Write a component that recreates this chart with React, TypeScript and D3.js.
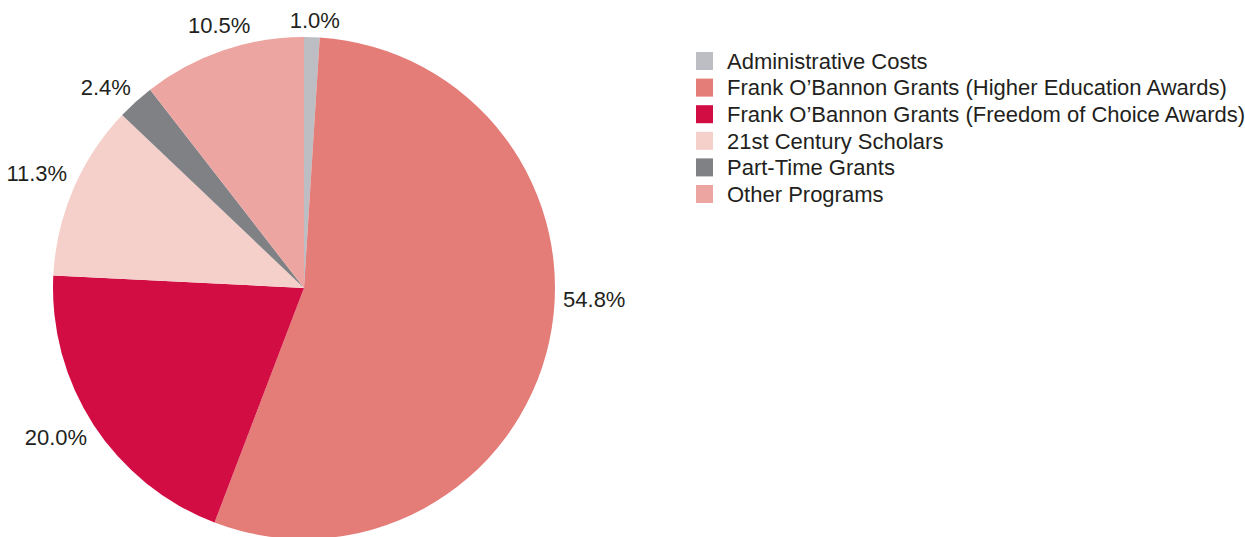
import React from "react";
import * as d3 from "d3";

const categories = [
  "Administrative Costs",
  "Frank O\u2019Bannon Grants (Higher Education Awards)",
  "Frank O\u2019Bannon Grants (Freedom of Choice Awards)",
  "21st Century Scholars",
  "Part-Time Grants",
  "Other Programs",
];
const values = [1.0, 54.8, 20.0, 11.3, 2.4, 10.5];
const colors = ["#bcbec3", "#e47c78", "#d20d44", "#f5d0ca", "#808185", "#eca5a0"];
// small angular nudges (degrees) for label placement, layout only
const labelAngleShift = [0.5, -10, 2, 0, -2.5, 1];

const W = 1245;
const H = 537;
const cx = 304;
const cy = 288;
const r = 251;
const FONT = "'Liberation Sans', Arial, Helvetica, sans-serif";
const fs = 22;

function estWidth(s: string) {
  let w = 0;
  for (const ch of s) {
    if (ch === ".") w += 0.278;
    else if (ch === "%") w += 0.889;
    else w += 0.556;
  }
  return w * fs;
}

export default function App() {
  const pie = d3
    .pie<number>()
    .sort(null)
    .value((d) => d)
    .startAngle(0)
    .endAngle(2 * Math.PI);
  const arcs = pie(values);
  const arc = d3.arc<d3.PieArcDatum<number>>().innerRadius(0).outerRadius(r);

  return (
    <svg
      width={W}
      height={H}
      style={{ position: "absolute", left: 0, top: 0, display: "block" }}
      fontFamily={FONT}
    >
      <g transform={`translate(${cx},${cy})`}>
        {arcs.map((a, i) => (
          <path key={i} d={arc(a) || ""} fill={colors[i]} />
        ))}
        {arcs.map((a, i) => {
          const label = values[i].toFixed(1) + "%";
          const th = (a.startAngle + a.endAngle) / 2 + (labelAngleShift[i] * Math.PI) / 180;
          const sx = Math.sin(th);
          const sy = -Math.cos(th);
          const w = estWidth(label);
          const R = r + 8 + Math.abs(sx) * (w / 2) + Math.abs(sy) * 8;
          return (
            <text
              key={"l" + i}
              x={R * sx}
              y={R * sy}
              textAnchor="middle"
              dy="0.35em"
              fontSize={fs}
              fill="#231f20"
            >
              {label}
            </text>
          );
        })}
      </g>
      <g transform="translate(696,52)">
        {categories.map((c, i) => (
          <g key={c} transform={`translate(0,${i * 26.6})`}>
            <rect x={0} y={0} width={17} height={18} fill={colors[i]} />
            <text x={31} y={9} dy="0.35em" fontSize={fs} fill="#231f20">
              {c}
            </text>
          </g>
        ))}
      </g>
    </svg>
  );
}
